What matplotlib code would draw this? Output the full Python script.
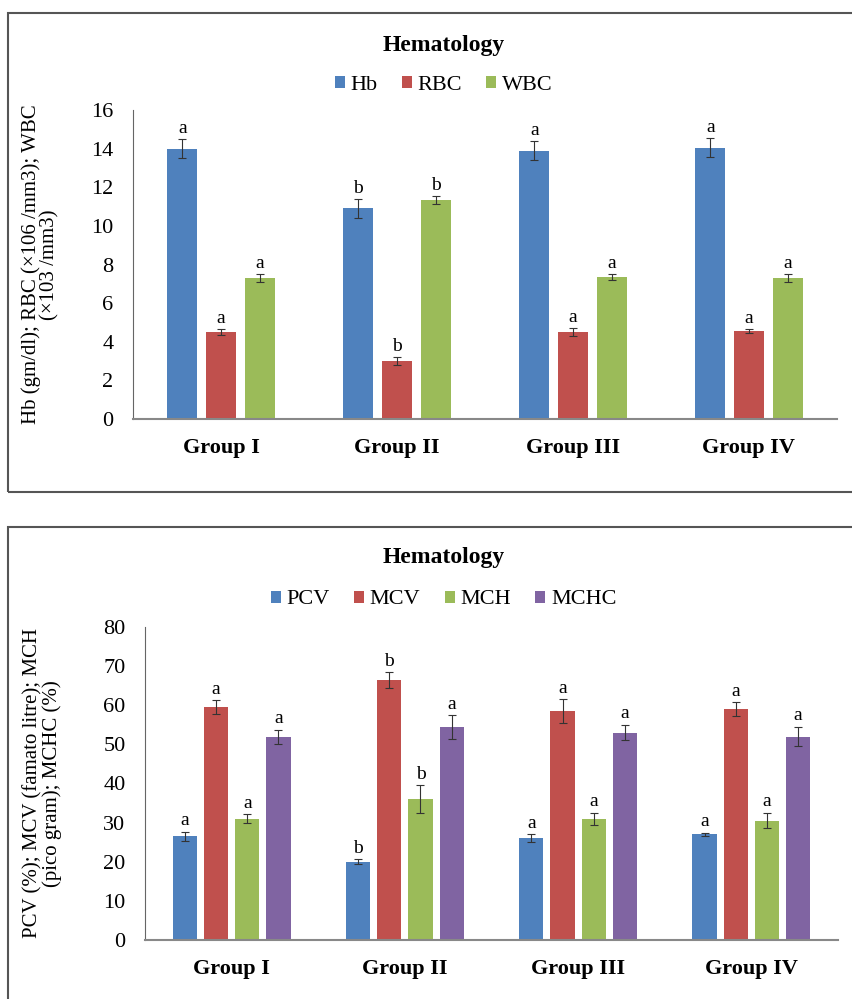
import numpy as np
import matplotlib
matplotlib.use("Agg")
import matplotlib.pyplot as plt
from matplotlib.patches import Rectangle

plt.rcParams['font.family'] = ['Liberation Serif', 'DejaVu Serif']

groups = ["Group I", "Group II", "Group III", "Group IV"]

# panel 1
top_series = ["Hb", "RBC", "WBC"]
hb = [14.0, 10.9, 13.9, 14.05]
hb_err = [0.5, 0.5, 0.5, 0.5]
rbc = [4.5, 3.0, 4.5, 4.55]
rbc_err = [0.15, 0.2, 0.2, 0.1]
wbc = [7.3, 11.35, 7.35, 7.3]
wbc_err = [0.2, 0.2, 0.15, 0.2]
hb_sig = ["a", "b", "a", "a"]
rbc_sig = ["a", "b", "a", "a"]
wbc_sig = ["a", "b", "a", "a"]

# panel 2
bot_series = ["PCV", "MCV", "MCH", "MCHC"]
pcv = [26.5, 20.0, 26.0, 27.0]
pcv_err = [1.2, 0.7, 1.0, 0.4]
mcv = [59.5, 66.5, 58.5, 59.0]
mcv_err = [1.8, 2.0, 3.0, 1.8]
mch = [31.0, 36.0, 31.0, 30.5]
mch_err = [1.2, 3.5, 1.5, 2.0]
mchc = [52.0, 54.5, 53.0, 52.0]
mchc_err = [1.8, 3.0, 2.0, 2.5]
pcv_sig = ["a", "b", "a", "a"]
mcv_sig = ["a", "b", "a", "a"]
mch_sig = ["a", "b", "a", "a"]
mchc_sig = ["a", "a", "a", "a"]

colors = ["#4F81BD", "#C0504D", "#9BBB59", "#8064A2"]

W, H = 853, 999
fig = plt.figure(figsize=(W / 100, H / 100), dpi=100)


def px(x0, y0, x1, y1):
    # pixel box -> figure fraction [left, bottom, width, height]
    return [x0 / W, 1 - y1 / H, (x1 - x0) / W, (y1 - y0) / H]


# outer frames
fig.patches.append(Rectangle((8 / W, 1 - 492 / H), 860 / W, (492 - 13) / H,
                             transform=fig.transFigure, fill=False,
                             edgecolor="#555555", linewidth=1.5))
fig.patches.append(Rectangle((8 / W, -0.02), 860 / W, 0.02 + (999 - 527) / H,
                             transform=fig.transFigure, fill=False,
                             edgecolor="#555555", linewidth=1.5))


def panel(rect, data, errs, sigs, names, ymax, ystep, width, step, ylabel,
          title_y, legend_y, sig_off, label_x):
    ax = fig.add_axes(rect)
    x = np.arange(len(groups))
    n = len(data)
    for i in range(n):
        pos = x + (i - (n - 1) / 2) * step
        ax.bar(pos, data[i], width, color=colors[i], label=names[i],
               yerr=errs[i], error_kw=dict(ecolor="#333333", elinewidth=0.8,
                                           capsize=3, capthick=0.8))
        for p, v, e, s in zip(pos, data[i], errs[i], sigs[i]):
            ax.text(p, v + e + sig_off, s, ha="center", va="bottom", fontsize=14)
    ax.set_xlim(-0.5, len(groups) - 0.5)
    ax.set_ylim(0, ymax)
    ax.set_yticks(np.arange(0, ymax + 1, ystep))
    ax.set_xticks(x)
    ax.set_xticklabels(groups, fontsize=16, fontweight="bold")
    ax.tick_params(axis="both", length=0, labelsize=16)
    ax.tick_params(axis="x", pad=14)
    ax.tick_params(axis="y", pad=14)
    for s in ["top", "right"]:
        ax.spines[s].set_visible(False)
    ax.spines["left"].set_color("#666666")
    ax.spines["bottom"].set_color("#888888")
    ax.spines["bottom"].set_linewidth(1.5)
    ax.set_ylabel(ylabel, fontsize=15, linespacing=1.0)
    ax.yaxis.set_label_coords(label_x, 0.5)
    fig.text(0.5 + 0.02, title_y, "Hematology", ha="center", va="center",
             fontsize=17, fontweight="bold")
    fig.legend(*ax.get_legend_handles_labels(), loc="center",
               bbox_to_anchor=(0.52, legend_y), ncol=n, frameon=False,
               fontsize=16, handlelength=0.45, handleheight=0.45,
               handletextpad=0.25, columnspacing=1.1)
    return ax


panel(px(133, 110, 837, 419), [hb, rbc, wbc], [hb_err, rbc_err, wbc_err],
      [hb_sig, rbc_sig, wbc_sig], top_series, 16, 2, 0.17, 0.22,
      "Hb (gm/dl); RBC (×106 /mm3); WBC\n(×103 /mm3)",
      1 - 45 / H, 1 - 85 / H, 0.1, -0.104)

panel(px(145, 627, 838, 940), [pcv, mcv, mch, mchc],
      [pcv_err, mcv_err, mch_err, mchc_err],
      [pcv_sig, mcv_sig, mch_sig, mchc_sig], bot_series, 80, 10, 0.14, 0.18,
      "PCV (%); MCV (famato litre); MCH\n(pico gram); MCHC (%)",
      1 - 557 / H, 1 - 600 / H, 0.6, -0.12)

fig.savefig("out.png", dpi=100)
